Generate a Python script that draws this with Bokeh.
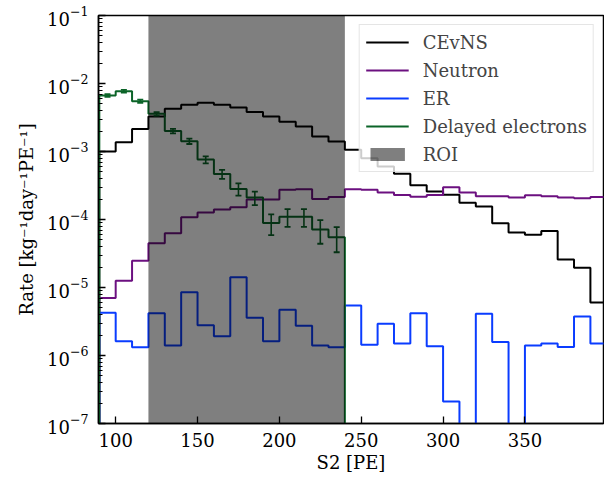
import numpy as np
from bokeh.plotting import figure
from bokeh.models import FixedTicker, Range1d, ColumnDataSource, Legend, LegendItem
from bokeh.embed import file_html
from bokeh.resources import INLINE

# ---------------- data ----------------
bin_edges = np.arange(90, 401, 10)          # S2 [PE] bin edges
cevns = [1.0e-3, 1.37e-3, 2.15e-3, 3.27e-3, 4.25e-3, 4.86e-3, 5.2e-3, 4.86e-3, 4.44e-3, 3.8e-3,
         3.27e-3, 2.75e-3, 2.33e-3, 1.66e-3, 1.40e-3, 1.06e-3, 7.97e-4, 6.0e-4, 4.7e-4, 3.2e-4,
         2.58e-4, 2.31e-4, 1.76e-4, 1.55e-4, 8.8e-5, 6.45e-5, 5.96e-5, 6.8e-5, 2.58e-5, 1.95e-5,
         6.0e-6]
neutron = [7.0e-6, 1.26e-5, 2.47e-5, 4.49e-5, 6.3e-5, 1.08e-4, 1.27e-4, 1.40e-4, 1.52e-4, 1.97e-4,
           1.97e-4, 2.73e-4, 2.79e-4, 2.0e-4, 2.14e-4, 2.79e-4, 2.73e-4, 2.5e-4, 2.3e-4, 2.16e-4,
           2.3e-4, 2.98e-4, 2.5e-4, 2.2e-4, 2.2e-4, 2.1e-4, 2.28e-4, 2.2e-4, 2.1e-4, 2.05e-4,
           2.14e-4]
er = [4.25e-6, 1.62e-6, 1.32e-6, 4.19e-6, 1.40e-6, 8.5e-6, 2.79e-6, 1.92e-6, 1.42e-5, 3.58e-6,
      1.62e-6, 4.7e-6, 2.73e-6, 1.40e-6, 1.32e-6, 5.43e-6, 1.44e-6, 2.92e-6, 1.5e-6, 4.19e-6,
      1.37e-6, 2.1e-7, 0.0, 4.1e-6, 1.58e-6, 0.0, 1.4e-6, 1.5e-6, 1.33e-6, 3.75e-6,
      1.5e-6]
delayed_edges = np.arange(90, 241, 10)
delayed = [6.67e-3, 7.7e-3, 5.5e-3, 3.58e-3, 2.0e-3, 1.42e-3, 7.6e-4, 4.66e-4, 2.82e-4, 2.1e-4,
           8.9e-5, 1.1e-4, 1.1e-4, 7.1e-5, 5.5e-5]
delayed_err = [3.0e-4, 3.5e-4, 3.0e-4, 2.0e-4, 1.5e-4, 1.3e-4, 9e-5, 7e-5, 5.8e-5, 4.7e-5,
               3.0e-5, 3.2e-5, 3.2e-5, 2.7e-5, 2.2e-5]
roi = [120, 240]
labels = ["CEvNS", "Neutron", "ER", "Delayed electrons", "ROI"]
x_ticks = [100, 150, 200, 250, 300, 350]
y_exponents = [-7, -6, -5, -4, -3, -2, -1]

# ---------------- style ----------------
FONT = "DejaVu Serif"
FSIZE = "18px"
C_CEVNS = "#000000"
C_NEUTRON = "#6c1080"
C_ER = "#0a3cff"
C_DELAYED = "#0b6428"
FLOOR = 1e-12


def step_xy(edges, vals):
    v = np.maximum(np.asarray(vals, dtype=float), FLOOR)
    x = np.repeat(np.asarray(edges, dtype=float), 2)
    y = np.concatenate([[FLOOR], np.repeat(v, 2), [FLOOR]])
    return x, y


p = figure(frame_width=505, frame_height=408,
           x_range=Range1d(89.5, 398.0), y_range=Range1d(1e-7, 1e-1),
           y_axis_type="log", output_backend="svg", toolbar_location=None,
           min_border_left=98, min_border_right=1, min_border_top=15, min_border_bottom=59)
p.background_fill_color = "white"
p.border_fill_color = "white"
p.outline_line_color = "black"
p.outline_line_width = 1.5
p.xgrid.visible = False
p.ygrid.visible = False

r_c = p.line(*step_xy(bin_edges, cevns), line_color=C_CEVNS, line_width=2)
r_n = p.line(*step_xy(bin_edges, neutron), line_color=C_NEUTRON, line_width=2)
r_e = p.line(*step_xy(bin_edges, er), line_color=C_ER, line_width=2)
r_d = p.line(*step_xy(delayed_edges, delayed), line_color=C_DELAYED, line_width=2)

d = np.asarray(delayed)
de = np.asarray(delayed_err)
centers = (delayed_edges[:-1] + delayed_edges[1:]) / 2
src = ColumnDataSource(dict(x=centers, lo=d - de, hi=d + de))
p.segment(x0="x", y0="lo", x1="x", y1="hi", source=src, line_color=C_DELAYED, line_width=1.6)
p.scatter(x="x", y="lo", source=src, marker="dash", size=6, line_color=C_DELAYED, line_width=1.8)
p.scatter(x="x", y="hi", source=src, marker="dash", size=6, line_color=C_DELAYED, line_width=1.8)

r_roi = p.quad(left=[roi[0]], right=[roi[1]], bottom=[FLOOR], top=[10.0],
               fill_color="black", fill_alpha=0.5, line_color=None)

# axes
for ax in (p.xaxis[0], p.yaxis[0]):
    ax.axis_line_width = 1.5
    ax.axis_line_color = "black"
    ax.major_tick_in = 7
    ax.major_tick_out = 0
    ax.minor_tick_in = 4
    ax.minor_tick_out = 0
    ax.major_tick_line_width = 1.3
    ax.minor_tick_line_width = 1.0
    ax.major_label_text_font = FONT
    ax.major_label_text_font_size = FSIZE
    ax.major_label_text_color = "black"
    ax.axis_label_text_font = FONT
    ax.axis_label_text_font_size = FSIZE
    ax.axis_label_text_font_style = "normal"
    ax.axis_label_text_color = "black"

p.xaxis.ticker = FixedTicker(ticks=x_ticks, minor_ticks=[])
p.xaxis.major_label_standoff = 9
p.xaxis.axis_label = "S2 [PE]"
p.xaxis.axis_label_standoff = 2

y_major = [10.0 ** k for k in y_exponents]
y_minor = [m * 10.0 ** k for k in y_exponents[:-1] for m in range(2, 10)]
p.yaxis.ticker = FixedTicker(ticks=y_major, minor_ticks=y_minor)
p.yaxis.major_label_standoff = 10
p.yaxis.axis_label = "Rate [kg\u207b\u00b9day\u207b\u00b9PE\u207b\u00b9]"
p.yaxis.axis_label_standoff = 7

legend = Legend(items=[LegendItem(label=labels[0], renderers=[r_c]),
                       LegendItem(label=labels[1], renderers=[r_n]),
                       LegendItem(label=labels[2], renderers=[r_e]),
                       LegendItem(label=labels[3], renderers=[r_d]),
                       LegendItem(label=labels[4], renderers=[r_roi])],
                location="top_right", margin=9, padding=6, spacing=6,
                glyph_width=43, glyph_height=16, label_height=22, label_standoff=14,
                label_text_font=FONT, label_text_font_size=FSIZE,
                border_line_color="#cccccc", border_line_width=1.2,
                background_fill_color="white", background_fill_alpha=0.8)
p.add_layout(legend)

open("out.html", "w").write(file_html(p, INLINE))
